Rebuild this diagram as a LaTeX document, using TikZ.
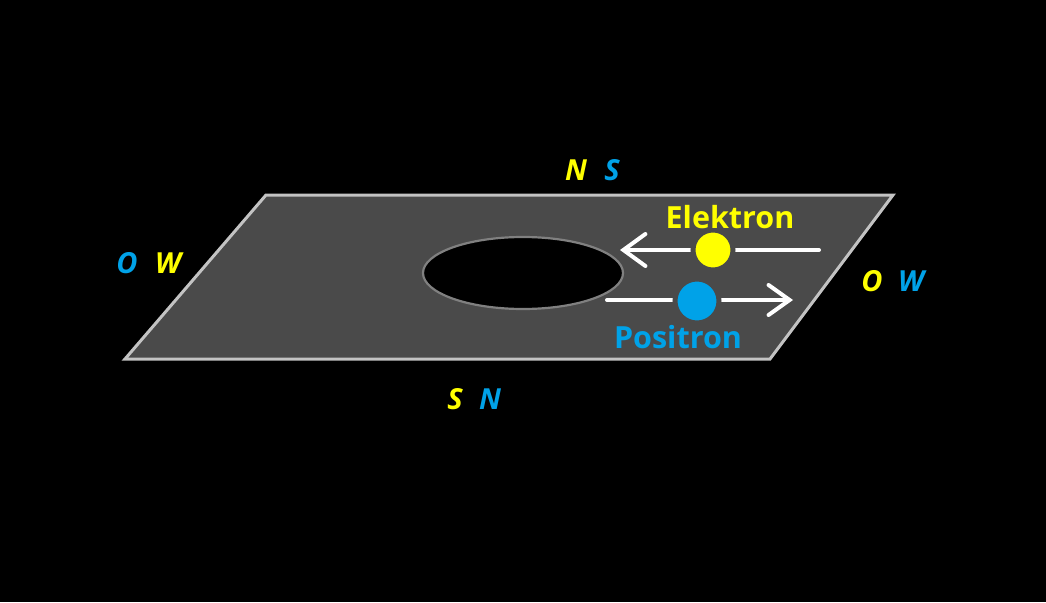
\documentclass[tikz,border=0pt]{standalone}
\usepackage{fontspec}
\setmainfont{Open Sans}
\usetikzlibrary{arrows.meta,shapes.geometric}
\definecolor{plane}{HTML}{4A4A4A}
\definecolor{rim}{HTML}{C3C3C3}
\definecolor{holerim}{HTML}{808080}
\definecolor{eyellow}{HTML}{FFFF00}
\definecolor{pblue}{HTML}{00A2E8}
\tikzset{
  lbl/.style={font=\fontsize{29}{29}\selectfont\bfseries\itshape, inner sep=0pt, anchor=base},
  pname/.style={font=\fontsize{30.5}{30.5}\selectfont\bfseries, inner sep=0pt, anchor=base},
  track/.style={draw=white, line width=4pt, line cap=round},
  particle/.style={circle, draw=plane, line width=5pt, inner sep=0pt},
}
\begin{document}
\begin{tikzpicture}[x=1pt,y=-1pt]
\fill[black] (0,0) rectangle (1046,602);
\useasboundingbox (0,0) rectangle (1046,602);
% plane
\coordinate (tl) at (266,195);
\coordinate (tr) at (893,195);
\coordinate (br) at (770,359);
\coordinate (bl) at (125,359);
\filldraw[fill=plane, draw=rim, line width=3pt, line join=miter] (tl) -- (tr) -- (br) -- (bl) -- cycle;
% hole
\node (hole) [ellipse, draw=holerim, fill=black, line width=2.2pt, minimum width=200pt, minimum height=72pt, inner sep=0pt] at (523,273) {};
% electron
\coordinate (eR) at (819,250);
\coordinate (eL) at (620,250);
\draw[track, -{Straight Barb[length=22pt,width=32pt,line width=4pt, line cap=round]}] (eR) -- (eL);
\node (el) [particle, fill=eyellow, minimum size=40pt] at (713,250) {};
% positron
\coordinate (pL) at (607,300);
\coordinate (pR) at (793,300);
\draw[track, -{Straight Barb[length=21pt,width=30pt,line width=4pt, line cap=round]}] (pL) -- (pR);
\node (po) [particle, fill=pblue, minimum size=44pt] at (697,301) {};
% names
\node (elt) [pname, text=eyellow] at (730,228) {Elektron};
\node (pot) [pname, text=pblue] at (678,348) {Positron};
% poles
\node (topN) [lbl, text=eyellow] at (576,180) {N};
\node (topS) [lbl, text=pblue] at (612,180) {S};
\node (botS) [lbl, text=eyellow] at (455,409) {S};
\node (botN) [lbl, text=pblue] at (490,409) {N};
\node (lftO) [lbl, text=pblue] at (127,273) {O};
\node (lftW) [lbl, text=eyellow] at (168,273) {W};
\node (rgtO) [lbl, text=eyellow] at (872,291) {O};
\node (rgtW) [lbl, text=pblue] at (911,291) {W};
\end{tikzpicture}
\end{document}
